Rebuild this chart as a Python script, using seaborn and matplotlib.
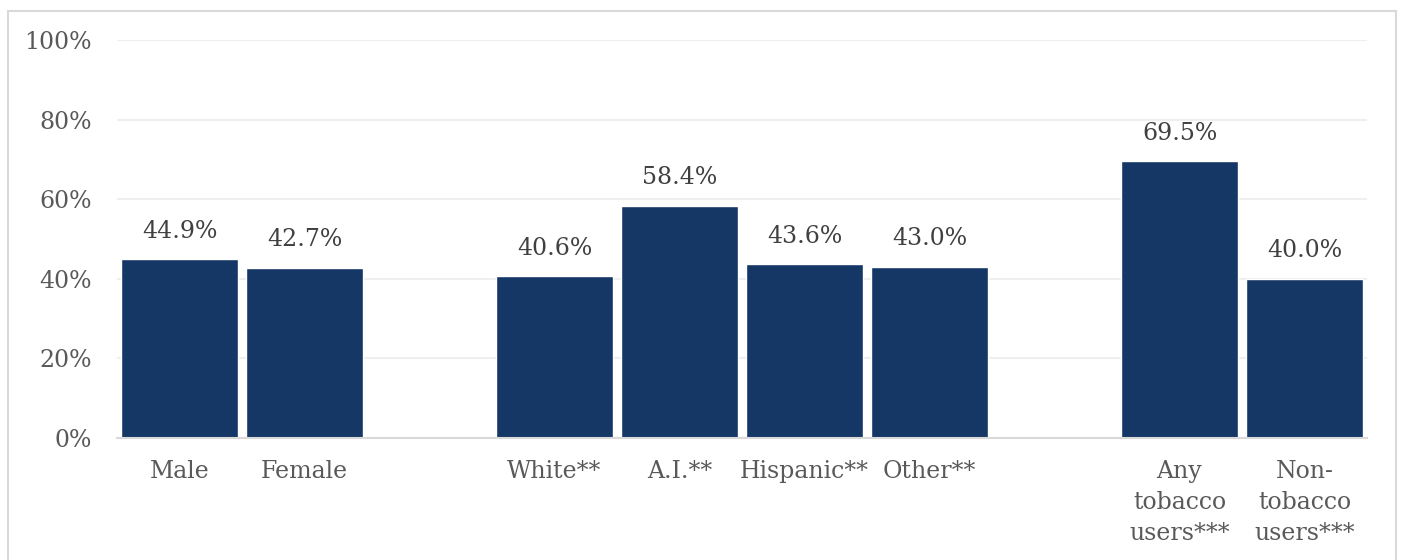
import matplotlib
matplotlib.use("Agg")
import matplotlib.pyplot as plt
import seaborn as sns
import pandas as pd
from matplotlib.patches import Rectangle

# data
categories = ["Male", "Female", "White**", "A.I.**", "Hispanic**", "Other**",
              "Any\ntobacco\nusers***", "Non-\ntobacco\nusers***"]
values = [44.9, 42.7, 40.6, 58.4, 43.6, 43.0, 69.5, 40.0]
slot_order = ["Male", "Female", "", "White**", "A.I.**", "Hispanic**", "Other**", " ",
              "Any\ntobacco\nusers***", "Non-\ntobacco\nusers***"]
y_ticks = [0, 20, 40, 60, 80, 100]

sns.set_theme(style="white")
plt.rcParams['font.family'] = ['DejaVu Serif']

df = pd.DataFrame({"cat": categories, "val": values})

fig = plt.figure(figsize=(14.03, 5.6), dpi=100)
ax = fig.add_axes([117/1403, 122/560, 1250/1403, 398/560])

sns.barplot(data=df, x="cat", y="val", order=slot_order, color="#153765",
            saturation=1, width=0.936, ax=ax, zorder=3)

ax.set_ylim(0, 100)
ax.set_xlim(-0.5, len(slot_order) - 0.5)
ax.set_yticks(y_ticks)
ax.set_yticklabels([f"{t}%" for t in y_ticks])
ax.set_xlabel("")
ax.set_ylabel("")

ax.yaxis.grid(True, color="#EFEFEF", linewidth=1.5, zorder=0)
ax.xaxis.grid(False)
for s in ["top", "right", "left"]:
    ax.spines[s].set_visible(False)
ax.spines["bottom"].set_color("#D9D9D9")
ax.spines["bottom"].set_linewidth(1.5)
ax.spines["bottom"].set_zorder(4)

fs = 17
ax.tick_params(axis="y", length=0, pad=18, labelsize=fs, labelcolor="#595959")
ax.tick_params(axis="x", length=0, pad=16, labelsize=fs, labelcolor="#595959")
for lab in ax.get_xticklabels():
    lab.set_linespacing(1.45)

for cont in ax.containers:
    ax.bar_label(cont, fmt="%.1f%%", padding=12, fontsize=fs, color="#404040")

fig.patches.append(Rectangle((7.5/1403, -0.05), (1396 - 7.5)/1403, 1 - 10.5/560 + 0.05,
                             transform=fig.transFigure, fill=False,
                             edgecolor="#D9D9D9", linewidth=1.5))

fig.savefig("out.png", dpi=100)
